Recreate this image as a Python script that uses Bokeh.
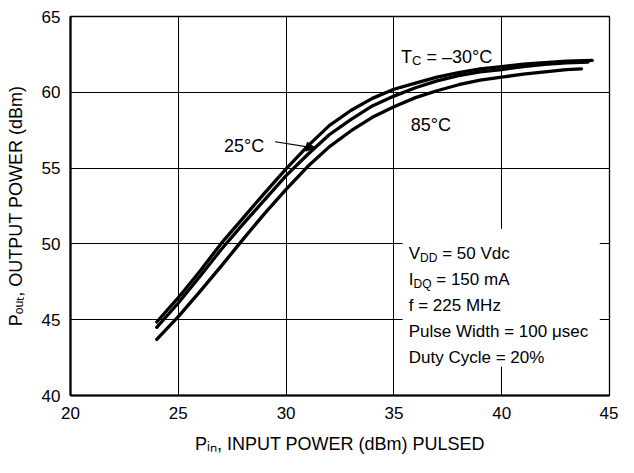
from bokeh.plotting import figure
from bokeh.models import Range1d, FixedTicker, Label, Arrow, NormalHead, BoxAnnotation
from bokeh.embed import file_html
from bokeh.resources import INLINE

# ---------------- data ----------------
pin_m30 = [24, 25, 26, 27, 28, 29, 30, 31, 32, 33, 34, 35, 36, 37, 38, 39, 40, 41, 42, 43, 44.2]
pout_m30 = [44.85, 46.45, 48.2, 50.05, 51.7, 53.35, 54.95, 56.45, 57.8, 58.8, 59.6, 60.2, 60.6, 61.0, 61.3,
            61.55, 61.7, 61.85, 61.95, 62.05, 62.1]

pin_25 = [24, 25, 26, 27, 28, 29, 30, 31, 32, 33, 34, 35, 36, 37, 38, 39, 40, 41, 42, 43, 44.0]
pout_25 = [44.5, 46.1, 47.85, 49.65, 51.3, 52.9, 54.5, 55.9, 57.2, 58.2, 59.1, 59.75, 60.3, 60.75, 61.1,
           61.35, 61.5, 61.7, 61.85, 61.95, 62.0]

pin_85 = [24, 25, 26, 27, 28, 29, 30, 31, 32, 33, 34, 35, 36, 37, 38, 39, 40, 41, 42, 43, 43.7]
pout_85 = [43.7, 45.2, 46.85, 48.55, 50.3, 52.0, 53.6, 55.1, 56.4, 57.45, 58.35, 59.05, 59.65, 60.1, 60.5,
           60.8, 61.0, 61.2, 61.35, 61.5, 61.55]

x_ticks = [20, 25, 30, 35, 40, 45]
y_ticks = [40, 45, 50, 55, 60, 65]

x_title = "P\u1d62\u2099, INPUT POWER (dBm) PULSED"
y_title = "P\u2092\u1d64\u209c, OUTPUT POWER (dBm)"

FONT = "Liberation Sans"

# approximate advance widths (em) for placing subscripts
W = {"V": .667, "D": .722, "I": .278, "Q": .778, "T": .611, "C": .722, "P": .667, " ": .278}


def tw(s, size):
    return sum(W.get(c, .556) for c in s) * size


p = figure(width=618, height=457, output_backend="svg", toolbar_location=None,
           x_range=Range1d(20, 45), y_range=Range1d(40, 65),
           min_border_left=70, min_border_right=9, min_border_top=16, min_border_bottom=62)
p.background_fill_color = "white"
p.border_fill_color = "white"
p.outline_line_color = "black"
p.outline_line_width = 1.3

for ax, ticks in ((p.xaxis[0], x_ticks), (p.yaxis[0], y_ticks)):
    ax.ticker = FixedTicker(ticks=ticks)
    ax.major_tick_in = 0
    ax.major_tick_out = 0
    ax.minor_tick_in = 0
    ax.minor_tick_out = 0
    ax.axis_line_width = 2.2
    ax.axis_line_color = "black"
    ax.major_label_text_font = FONT
    ax.major_label_text_font_size = "17px"
    ax.major_label_text_color = "black"
    ax.axis_label_text_font = FONT
    ax.axis_label_text_font_size = "18px"
    ax.axis_label_text_font_style = "normal"
    ax.axis_label_text_color = "black"
p.xaxis[0].major_label_standoff = 11
p.yaxis[0].major_label_standoff = 10
p.xaxis[0].axis_label = x_title
p.yaxis[0].axis_label = y_title
p.xaxis[0].axis_label_standoff = 12
p.yaxis[0].axis_label_standoff = 13

p.xgrid.grid_line_color = "black"
p.ygrid.grid_line_color = "black"
p.xgrid.grid_line_width = 1
p.ygrid.grid_line_width = 1

for xs, ys in ((pin_m30, pout_m30), (pin_25, pout_25), (pin_85, pout_85)):
    p.line(xs, ys, line_color="black", line_width=3.3, line_join="round", line_cap="round")

# white box behind the conditions text
p.add_layout(BoxAnnotation(left=35.4, right=44.55, bottom=41.9, top=51.0,
                           fill_color="white", fill_alpha=1.0, line_alpha=0, level="glyph"))


def label(x, y, text, size, xo=0, yo=0):
    p.add_layout(Label(x=x, y=y, x_units="data", y_units="data", text=text,
                       x_offset=xo, y_offset=yo,
                       text_font=FONT, text_font_size=f"{size}px", text_color="black",
                       text_align="left", text_baseline="alphabetic"))


def rich(x, y, pieces, size, sub_size, sub_drop=4):
    # pieces are placed one after another; leading spaces become offsets
    # (SVG collapses leading whitespace in a text element)
    off = 0
    for s, sub in pieces:
        sz = sub_size if sub else size
        stripped = s.lstrip(" ")
        off += tw(s[:len(s) - len(stripped)], sz)
        label(x, y, stripped, sz, off, -sub_drop if sub else 0)
        off += tw(stripped, sz)


# curve annotations
rich(35.33, 62.34, [("T", False), ("C", True), (" = \u201330\u00b0C", False)], 18, 13)
label(35.78, 57.84, "85\u00b0C", 18)
label(27.12, 56.43, "25\u00b0C", 18)
p.add_layout(Arrow(x_start=29.49, y_start=56.74, x_end=31.36, y_end=56.32,
                   line_color="black", line_width=1.2,
                   end=NormalHead(size=9, fill_color="black", line_color="black")))

# conditions block
cond_x = 35.69
rich(cond_x, 49.35, [("V", False), ("DD", True), (" = 50 Vdc", False)], 17, 12)
rich(cond_x, 47.62, [("I", False), ("DQ", True), (" = 150 mA", False)], 17, 12)
label(cond_x, 45.92, "f = 225 MHz", 17)
label(cond_x, 44.20, "Pulse Width = 100 \u03bcsec", 17)
label(cond_x, 42.50, "Duty Cycle = 20%", 17)

open("out.html", "w").write(file_html(p, INLINE))
